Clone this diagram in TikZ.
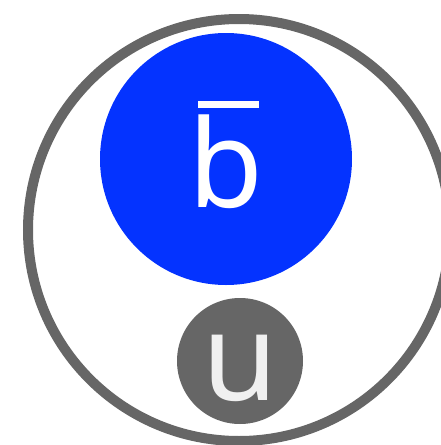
\documentclass[tikz,border=0pt]{standalone}
\usepackage{fontspec}
\setmainfont{Noto Sans}
\definecolor{antiblue}{HTML}{0433FF}
\definecolor{quarkgray}{HTML}{666666}
\definecolor{ltext}{HTML}{F0F0F0}
% antiquark: letter with a bar over it
\newcommand\antiq[1]{\ooalign{#1\cr\hidewidth\kern4pt\raisebox{99pt}{\rule{61pt}{7pt}}\hidewidth\cr}}

\begin{document}
\begin{tikzpicture}[x=1pt,y=-1pt,
  ball/.style={circle,inner sep=0pt,outer sep=0pt},
  flavour/.style={anchor=base,inner sep=0pt,font=\fontsize{122}{122}\selectfont}]
  \useasboundingbox (0,0) rectangle (441,445);
  \clip (0,0) rectangle (441,445);
  % meson and its two quarks
  \node[ball,draw=quarkgray,line width=10pt,minimum size=422pt] (meson) at (239,230) {};
  \node[ball,fill=antiblue,minimum size=252pt] (bbar) at (226,159) {};
  \node[ball,fill=quarkgray,minimum size=126pt] (uq) at (240,361) {};
  \node[flavour,text=white] (bbarlabel) at ([yshift=-48pt]bbar.center) {\antiq{b}};
  \node[flavour,text=ltext] (ulabel) at ([yshift=-39pt]uq.center) {u};
\end{tikzpicture}
\end{document}
